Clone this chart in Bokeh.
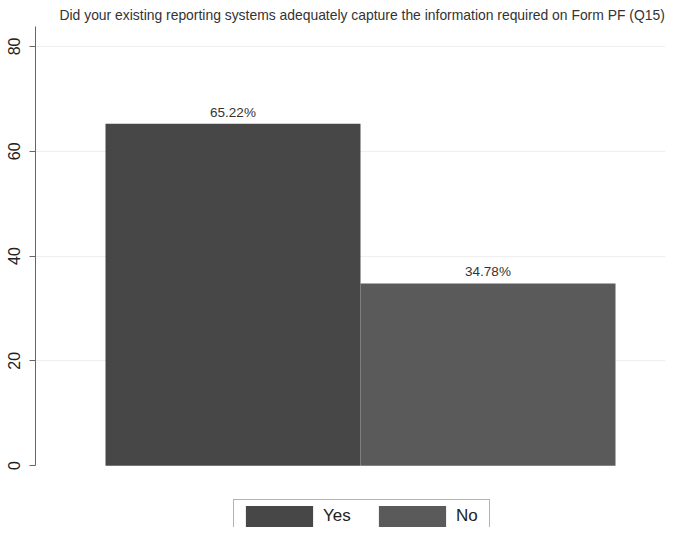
from bokeh.plotting import figure
from bokeh.models import (ColumnDataSource, FixedTicker, LabelSet, Legend,
                          LegendItem, Range1d)
from bokeh.core.properties import value
from bokeh.embed import file_html
from bokeh.resources import INLINE

# ---- data ----
categories = ["Yes", "No"]
values = [65.22, 34.78]
value_labels = ["65.22%", "34.78%"]
positions = [1, 2]
colors = ["#474747", "#5a5a5a"]
y_ticks = [0, 20, 40, 60, 80]
title_text = "Did your existing reporting systems adequately capture the information required on Form PF (Q15)"

y_top = 83.8
src = ColumnDataSource(dict(x=positions, top=values, cat=categories,
                            lab=value_labels, color=colors))

p = figure(width=665, height=527, output_backend="svg", toolbar_location=None,
           x_range=Range1d(0.2255, 2.6961), y_range=Range1d(-11.8, y_top),
           x_axis_location=None, min_border_left=35, min_border_right=0,
           min_border_top=0, min_border_bottom=0)
p.outline_line_color = None
p.background_fill_color = "white"
p.border_fill_color = "white"

p.title.text = title_text
p.title.text_font = "Liberation Sans"
p.title.text_font_size = "13.9px"
p.title.text_font_style = "normal"
p.title.text_color = "#333333"
p.title.align = "left"
p.title.offset = 24
p.title.standoff = 8

renderers = []
for i in range(len(categories)):
    s = ColumnDataSource(dict(x=[positions[i]], top=[values[i]]))
    r = p.vbar(x="x", top="top", width=1, bottom=0, source=s,
               fill_color=colors[i], line_color=None)
    renderers.append(r)

labels = LabelSet(x="x", y="top", text="lab", source=src, y_offset=4,
                  text_align="center", text_baseline="bottom",
                  text_font=value("Liberation Sans"), text_font_size="13.5px",
                  text_color="#333333")
p.add_layout(labels)

yaxis = p.yaxis[0]
yaxis.ticker = FixedTicker(ticks=y_ticks)
yaxis.bounds = (0, y_top)
yaxis.minor_tick_line_color = None
yaxis.major_tick_in = 0
yaxis.major_tick_out = 6
yaxis.axis_line_color = "#666666"
yaxis.major_tick_line_color = "#666666"
yaxis.major_label_orientation = "parallel"
yaxis.major_label_text_font = "Liberation Sans"
yaxis.major_label_text_font_size = "16px"
yaxis.major_label_text_color = "#222222"
yaxis.major_label_standoff = 9

p.ygrid.ticker = FixedTicker(ticks=y_ticks[1:])
p.ygrid.grid_line_color = "#eeeeee"
p.xgrid.grid_line_color = None

legend = Legend(items=[LegendItem(label=categories[i], renderers=[renderers[i]])
                       for i in range(len(categories))],
                orientation="horizontal", location=(198, -6),
                glyph_width=84, glyph_height=26, label_text_font="Liberation Sans",
                label_text_font_size="17px", label_text_color="#222222",
                border_line_color="#666666", padding=3, spacing=17,
                label_standoff=2, label_width=30, margin=0,
                background_fill_alpha=1)
p.add_layout(legend, "center")

open("out.html", "w").write(file_html(p, INLINE))
